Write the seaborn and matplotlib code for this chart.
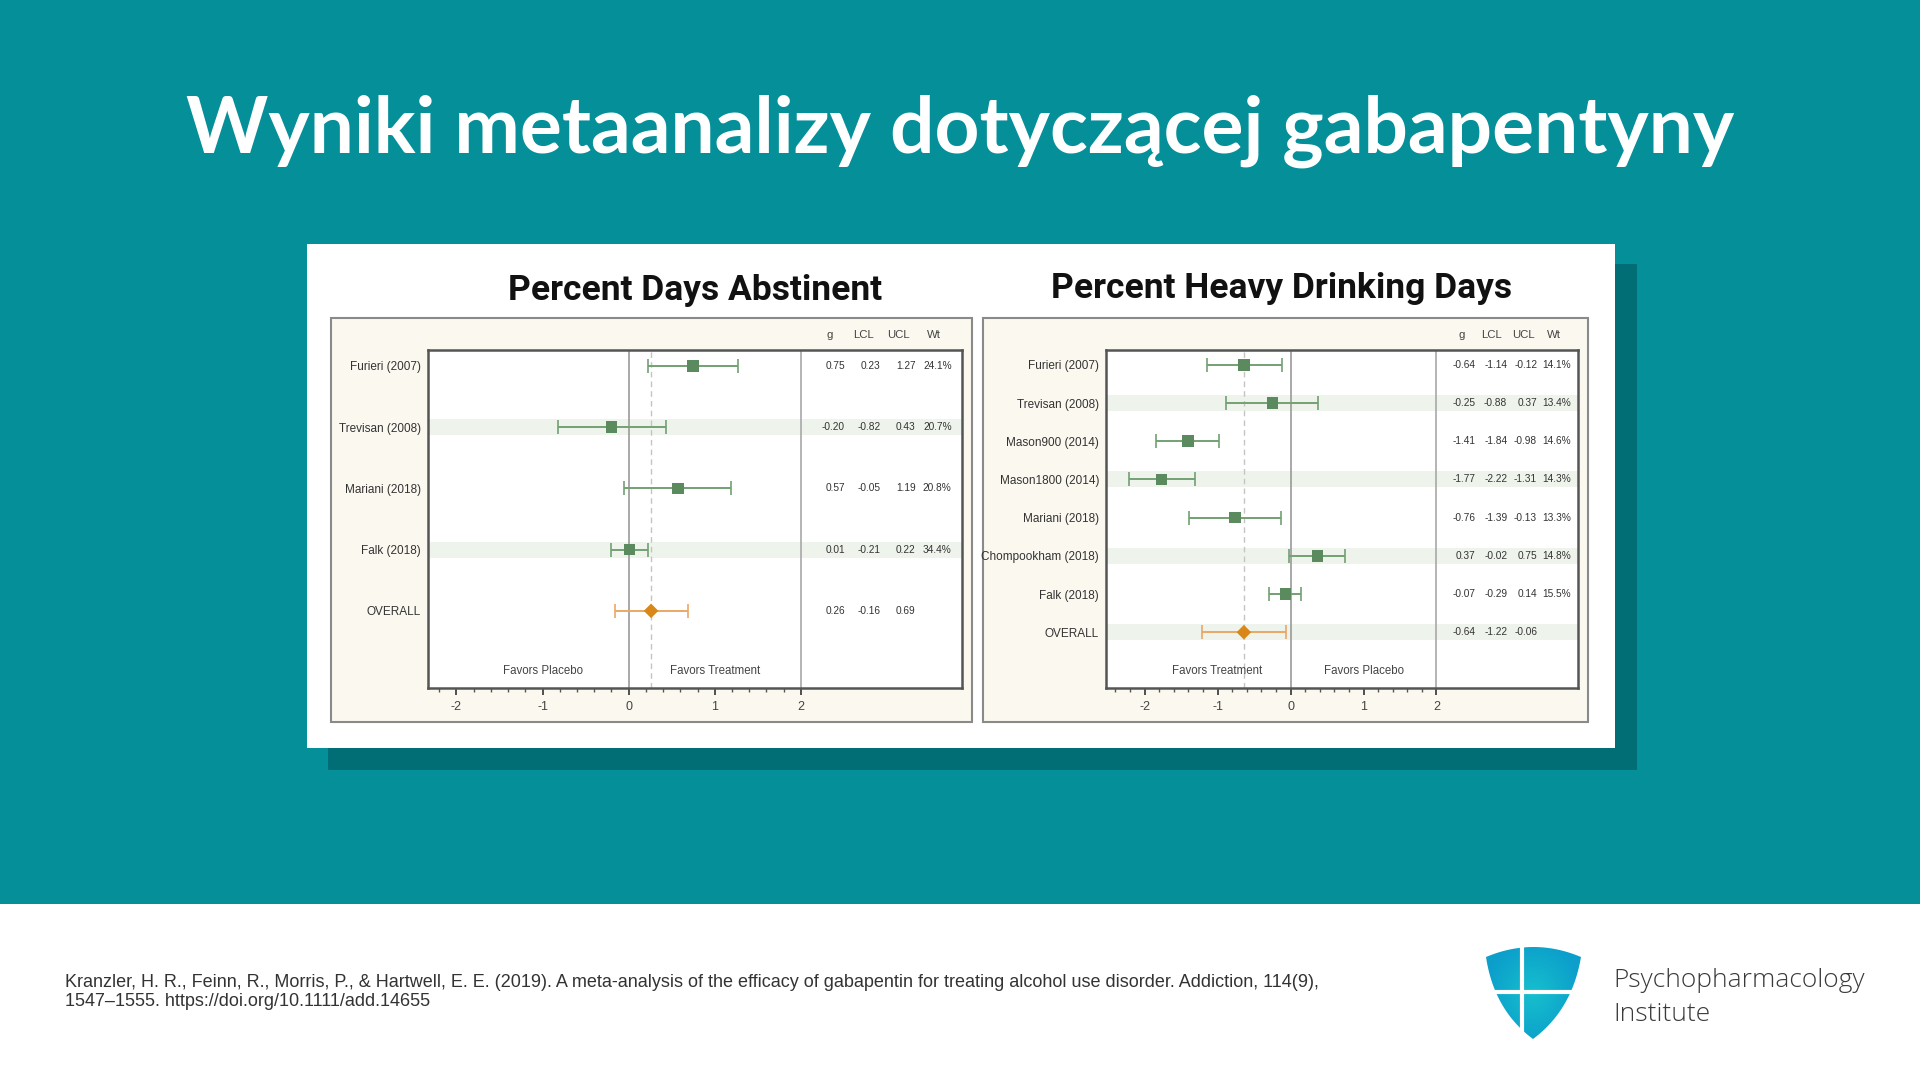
import numpy as np
import pandas as pd
import seaborn as sns
import matplotlib.pyplot as plt
from matplotlib.patches import Rectangle, Polygon
from matplotlib.ticker import FixedLocator

# Percent Days Abstinent (left panel)
pda_studies = ["Furieri (2007)", "Trevisan (2008)", "Mariani (2018)", "Falk (2018)"]
pda_g = [0.75, -0.20, 0.57, 0.01]
pda_lcl = [0.23, -0.82, -0.05, -0.21]
pda_ucl = [1.27, 0.43, 1.19, 0.22]
pda_wt = ["24.1%", "20.7%", "20.8%", "34.4%"]
pda_overall = [0.26, -0.16, 0.69]

# Percent Heavy Drinking Days (right panel)
hdd_studies = ["Furieri (2007)", "Trevisan (2008)", "Mason900 (2014)", "Mason1800 (2014)",
               "Mariani (2018)", "Chompookham (2018)", "Falk (2018)"]
hdd_g = [-0.64, -0.25, -1.41, -1.77, -0.76, 0.37, -0.07]
hdd_lcl = [-1.14, -0.88, -1.84, -2.22, -1.39, -0.02, -0.29]
hdd_ucl = [-0.12, 0.37, -0.98, -1.31, -0.13, 0.75, 0.14]
hdd_wt = ["14.1%", "13.4%", "14.6%", "14.3%", "13.3%", "14.8%", "15.5%"]
hdd_overall = [-0.64, -1.22, -0.06]

col_headers = ["g", "LCL", "UCL", "Wt"]
x_ticks = [-2, -1, 0, 1, 2]

TEAL = "#058F99"
SHADOW = "#016E76"
CREAM = "#FBF8F0"
BAND = "#EEF4EC"
GREEN = "#5A8A5D"
GREEN_L = "#72A172"
ORANGE = "#D98718"
ORANGE_L = "#EBA766"
NARROW = ["Liberation Sans Narrow", "Liberation Sans", "DejaVu Sans"]

W, H = 1920, 1080


def box(x0, y0, x1, y1):
    # pixel box (top-left origin) -> figure fraction [l, b, w, h]
    return [x0 / W, 1 - y1 / H, (x1 - x0) / W, (y1 - y0) / H]


def rect(x0, y0, x1, y1, **kw):
    l, b, w, h = box(x0, y0, x1, y1)
    fig.add_artist(Rectangle((l, b), w, h, transform=fig.transFigure, zorder=-5, **kw))


sns.set_theme(style="white")
plt.rcParams["font.family"] = ["Liberation Sans", "DejaVu Sans"]

fig = plt.figure(figsize=(19.2, 10.8), dpi=100)

# backgrounds
rect(0, 0, 1920, 904, facecolor=TEAL, edgecolor="none")
rect(0, 904, 1920, 1080, facecolor="white", edgecolor="none")
rect(328, 264, 1637, 770, facecolor=SHADOW, edgecolor="none")
rect(307, 244, 1615, 748, facecolor="white", edgecolor="none")
rect(331, 318, 972, 722, facecolor=CREAM, edgecolor="#8a8a8a", linewidth=1.5)
rect(983, 318, 1588, 722, facecolor=CREAM, edgecolor="#8a8a8a", linewidth=1.5)

title = fig.text(0.5, 1 - 153 / H, "Wyniki metaanalizy dotyczącej gabapentyny",
                 ha="center", va="baseline", color="white", fontsize=60,
                 fontweight="bold", family=["Lato", "DejaVu Sans"])
fig.canvas.draw()
tw = title.get_window_extent().width
title.set_fontsize(60 * 1549 / tw)

fig.text(695 / W, 1 - 300 / H, "Percent Days Abstinent", ha="center", va="baseline",
         fontsize=25.5, fontweight="bold", color="#111111", family=["Roboto", "DejaVu Sans"])
fig.text(1282 / W, 1 - 298 / H, "Percent Heavy Drinking Days", ha="center", va="baseline",
         fontsize=25.5, fontweight="bold", color="#111111", family=["Roboto", "DejaVu Sans"])


def forest(ax, studies, g, lcl, ucl, wt, overall, shaded, xlim, ylim,
           favors, val_x, hdr_x):
    n = len(studies)
    df = pd.DataFrame({"study": studies, "g": g, "lcl": lcl, "ucl": ucl,
                       "wt": wt, "row": np.arange(n)})
    ov = pd.DataFrame({"g": [overall[0]], "lcl": [overall[1]],
                       "ucl": [overall[2]], "row": [n]})
    ax.set_facecolor("white")
    half = 8.0 / (338 / (ylim[0] - ylim[1]))  # ~16 px tall band
    for r in shaded:
        ax.axhspan(r - half, r + half, color=BAND, lw=0, zorder=0)
    ax.axvline(0, color="#9a9a9a", lw=1.2, zorder=1)
    ax.axvline(2, color="#a8a8a8", lw=1.2, zorder=1)
    ax.axvline(overall[0], color="#c4c4c4", lw=1.0, ls=(0, (4, 3)), zorder=1)

    ax.errorbar(df["g"], df["row"], xerr=[df["g"] - df["lcl"], df["ucl"] - df["g"]],
                fmt="none", ecolor=GREEN_L, elinewidth=1.4, capsize=5, capthick=1.2, zorder=2)
    sns.scatterplot(data=df, x="g", y="row", marker="s", s=70, color=GREEN,
                    edgecolor="none", legend=False, ax=ax, zorder=3)
    ax.errorbar(ov["g"], ov["row"], xerr=[ov["g"] - ov["lcl"], ov["ucl"] - ov["g"]],
                fmt="none", ecolor=ORANGE_L, elinewidth=1.4, capsize=5, capthick=1.2, zorder=2)
    sns.scatterplot(data=ov, x="g", y="row", marker="D", s=55, color=ORANGE,
                    edgecolor="none", legend=False, ax=ax, zorder=3)

    ax.set_xlim(*xlim)
    ax.set_ylim(*ylim)
    ax.set_yticks(list(df["row"]) + [n])
    ax.set_yticklabels(studies + ["OVERALL"], family=NARROW, fontsize=8.5, color="#333333")
    ax.set_xticks(x_ticks)
    ax.set_xticklabels([str(t) for t in x_ticks], family=NARROW, fontsize=9, color="#444444")
    minors = np.round(np.arange(np.ceil(xlim[0] / 0.2) * 0.2, 2.01, 0.2), 2)
    ax.xaxis.set_minor_locator(FixedLocator(minors))
    ax.tick_params(axis="y", length=0, pad=5)
    ax.tick_params(axis="x", which="major", direction="out", length=5, width=1.2,
                   color="#333333", pad=4, bottom=True)
    ax.tick_params(axis="x", which="minor", direction="out", length=3, width=1,
                   color="#555555", bottom=True)
    ax.set_xlabel("")
    ax.set_ylabel("")
    for s in ax.spines.values():
        s.set_visible(True)
        s.set_color("#555555")
        s.set_linewidth(1.8)

    rows_txt = [(r.row, [f"{r.g:.2f}", f"{r.lcl:.2f}", f"{r.ucl:.2f}", r.wt])
                for r in df.itertuples()]
    rows_txt.append((n, [f"{overall[0]:.2f}", f"{overall[1]:.2f}", f"{overall[2]:.2f}", ""]))
    for row, vals in rows_txt:
        for xv, t in zip(val_x, vals):
            ax.text(xv, row, t, ha="right", va="center", fontsize=7.3,
                    color="#333333", family=NARROW)
    trans = ax.get_xaxis_transform()
    for xh, t in zip(hdr_x, col_headers):
        ax.text(xh, 1.045, t, ha="center", va="center", fontsize=8.2, color="#444444",
                family=NARROW, transform=trans, clip_on=False)
    for xf, t in zip([-1, 1], favors):
        ax.text(xf, 0.05, t, ha="center", va="center", fontsize=8.3, color="#444444",
                family=NARROW, transform=trans)


ax1 = fig.add_axes(box(428, 350, 962, 688))
forest(ax1, pda_studies, pda_g, pda_lcl, pda_ucl, pda_wt, pda_overall, [1, 3],
       (-2.33, 3.87), (5.26, -0.26), ["Favors Placebo", "Favors Treatment"],
       [2.51, 2.92, 3.33, 3.75], [2.33, 2.73, 3.13, 3.55])

ax2 = fig.add_axes(box(1106, 350, 1578, 688))
forest(ax2, hdd_studies, hdd_g, hdd_lcl, hdd_ucl, hdd_wt, hdd_overall, [1, 3, 5, 7],
       (-2.53, 3.94), (8.46, -0.39), ["Favors Treatment", "Favors Placebo"],
       [2.54, 2.97, 3.38, 3.84], [2.34, 2.76, 3.19, 3.61])

# footer citation
fig.text(65 / W, 1 - 987 / H,
         "Kranzler, H. R., Feinn, R., Morris, P., & Hartwell, E. E. (2019). A meta-analysis of the "
         "efficacy of gabapentin for treating alcohol use disorder. Addiction, 114(9),",
         ha="left", va="baseline", fontsize=13, color="#333333")
fig.text(65 / W, 1 - 1006 / H, "1547–1555. https://doi.org/10.1111/add.14655",
         ha="left", va="baseline", fontsize=13, color="#333333")

# logo shield
lax = fig.add_axes(box(1480, 940, 1590, 1045))
lax.set_xlim(1480, 1590)
lax.set_ylim(1045, 940)
lax.axis("off")
t = np.linspace(0, 1, 30)
top = np.column_stack([1486 + 95 * t, 957 - 40 * t * (1 - t)])
right = np.column_stack([(1 - t) ** 2 * 1581 + 2 * t * (1 - t) * 1572 + t ** 2 * 1533,
                         (1 - t) ** 2 * 957 + 2 * t * (1 - t) * 1010 + t ** 2 * 1039])
left = np.column_stack([(1 - t) ** 2 * 1533 + 2 * t * (1 - t) * 1494 + t ** 2 * 1486,
                        (1 - t) ** 2 * 1039 + 2 * t * (1 - t) * 1010 + t ** 2 * 957])
shield = Polygon(np.vstack([top, right, left]), closed=True, facecolor="none", edgecolor="none")
lax.add_patch(shield)
gx, gy = np.meshgrid(np.linspace(-1, 1, 200), np.linspace(-1, 1, 200))
grad = np.clip(np.sqrt(gx ** 2 + (gy * 0.9) ** 2), 0, 1)
img = lax.imshow(grad, extent=(1486, 1581, 1040, 946), origin="upper", aspect="auto",
                 cmap=sns.blend_palette(["#16BFCD", "#0C9FCB"], as_cmap=True), zorder=1)
img.set_clip_path(shield)
lax.set_xlim(1480, 1590)
lax.set_ylim(1045, 940)
lax.plot([1522, 1522], [940, 1045], color="white", lw=3, zorder=2)
lax.plot([1480, 1590], [992, 992], color="white", lw=3, zorder=2)

fig.text(1613 / W, 1 - 987 / H, "Psychopharmacology", ha="left", va="baseline",
         fontsize=19, color="#3a3a3a", family=["Open Sans", "DejaVu Sans"], fontweight="light")
fig.text(1613 / W, 1 - 1021 / H, "Institute", ha="left", va="baseline",
         fontsize=19, color="#3a3a3a", family=["Open Sans", "DejaVu Sans"], fontweight="light")

fig.savefig("out.png", dpi=100)
